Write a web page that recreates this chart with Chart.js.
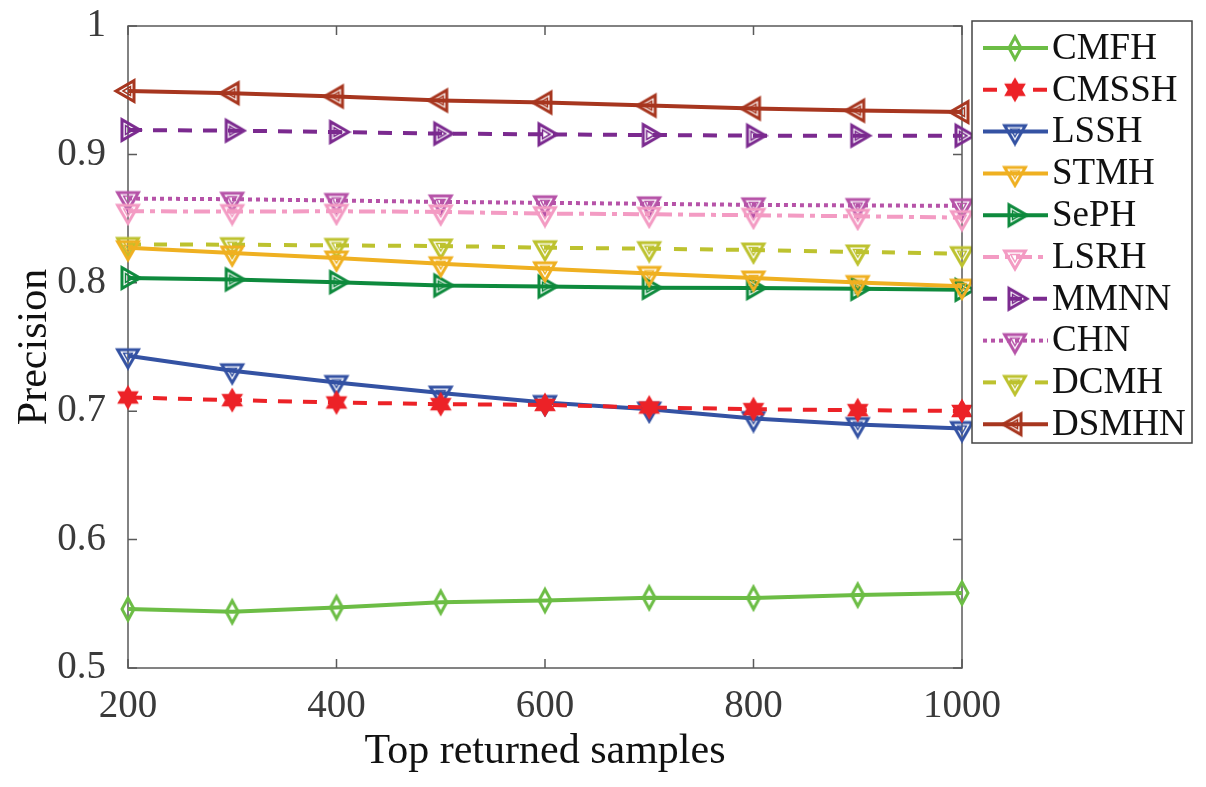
<!DOCTYPE html>
<html><head><meta charset="utf-8">
<script src="https://cdn.jsdelivr.net/npm/chart.js@4/dist/chart.umd.min.js"></script>
<style>html,body{margin:0;padding:0;background:#fff;}#wrap{width:1206px;height:787px;}</style>
</head><body><div id="wrap"><canvas id="c" width="1206" height="787"></canvas></div>
<script>
const xValues = [200,300,400,500,600,700,800,900,1000];
const yTicks = [0.5,0.6,0.7,0.8,0.9,1];
const xTicks = [200,400,600,800,1000];
const CMFH  = [0.5459,0.5438,0.5471,0.5513,0.5526,0.5547,0.5545,0.5568,0.5584];
const CMSSH = [0.7107,0.7086,0.7068,0.7055,0.7049,0.7029,0.7016,0.7008,0.7002];
const LSSH  = [0.7432,0.7315,0.7224,0.7141,0.7068,0.7016,0.6943,0.6896,0.6865];
const STMH  = [0.8273,0.8232,0.8193,0.8148,0.8109,0.8073,0.8037,0.8002,0.7974];
const SePH  = [0.8037,0.8026,0.8005,0.7979,0.7971,0.7961,0.7959,0.7953,0.7945];
const LSRH  = [0.8557,0.8555,0.8557,0.8552,0.8539,0.8534,0.8526,0.8518,0.8508];
const MMNN  = [0.9190,0.9185,0.9174,0.9162,0.9156,0.9151,0.9146,0.9146,0.9146];
const CHN   = [0.8656,0.8651,0.8641,0.8630,0.8623,0.8615,0.8607,0.8602,0.8600];
const DCMH  = [0.8299,0.8297,0.8291,0.8287,0.8273,0.8266,0.8255,0.8240,0.8227];
const DSMHN = [0.9494,0.9477,0.9451,0.9420,0.9404,0.9380,0.9357,0.9341,0.9330];
const seriesNames = ['CMFH','CMSSH','LSSH','STMH','SePH','LSRH','MMNN','CHN','DCMH','DSMHN'];

function markerCanvas(shape, color){
  const s = 30, c = document.createElement('canvas');
  c.width = s; c.height = s;
  const g = c.getContext('2d');
  const cx = s/2, cy = s/2;
  g.strokeStyle = color; g.fillStyle = color; g.lineWidth = 3; g.lineJoin='miter';
  g.beginPath();
  if (shape === 'diamond') {
    g.moveTo(cx, cy-11); g.lineTo(cx+6, cy); g.lineTo(cx, cy+11); g.lineTo(cx-6, cy); g.closePath(); g.stroke();
  } else if (shape === 'hexagram') {
    const R = 12.5, r = 7.2;
    for (let i=0;i<12;i++){ const a = -Math.PI/2 + i*Math.PI/6; const rr = i%2===0?R:r; const px = cx+rr*Math.cos(a), py = cy+rr*Math.sin(a); if(i===0) g.moveTo(px,py); else g.lineTo(px,py);} g.closePath(); g.fill();
  } else {
    const R = 12;
    let ang = {down: Math.PI/2, right: 0, left: Math.PI}[shape];
    for (let i=0;i<3;i++){ const a = ang + i*2*Math.PI/3; const px=cx+R*Math.cos(a), py=cy+R*Math.sin(a); if(i===0) g.moveTo(px,py); else g.lineTo(px,py);} g.closePath(); g.stroke();
    g.lineWidth = 1.5; g.beginPath();
    for (let i=0;i<3;i++){ const a = ang + i*2*Math.PI/3; const px=cx+5*Math.cos(a), py=cy+5*Math.sin(a); if(i===0) g.moveTo(px,py); else g.lineTo(px,py);} g.closePath(); g.stroke();
  }
  return c;
}

const styles = {
  CMFH:  {color:'#6cbd45', dash:[], marker:'diamond'},
  CMSSH: {color:'#ec2227', dash:[14,11], marker:'hexagram'},
  LSSH:  {color:'#3452a3', dash:[], marker:'down'},
  STMH:  {color:'#efb021', dash:[], marker:'down'},
  SePH:  {color:'#0e8a3d', dash:[], marker:'right'},
  LSRH:  {color:'#f39bc3', dash:[16,6,5,6], marker:'down'},
  MMNN:  {color:'#7b2a8f', dash:[14,11], marker:'right'},
  CHN:   {color:'#b653a8', dash:[4,4], marker:'down'},
  DCMH:  {color:'#bdc22f', dash:[13,13], marker:'down'},
  DSMHN: {color:'#a7361f', dash:[], marker:'left'}
};
const seriesData = {CMFH,CMSSH,LSSH,STMH,SePH,LSRH,MMNN,CHN,DCMH,DSMHN};

const datasets = seriesNames.map(n => {
  const st = styles[n];
  const img = markerCanvas(st.marker, st.color);
  return {
    label: n,
    data: xValues.map((x,i)=>({x, y: seriesData[n][i]})),
    borderColor: st.color, backgroundColor: st.color,
    borderWidth: 4, borderDash: st.dash,
    pointStyle: img, pointRadius: 13, pointHoverRadius: 13,
    tension: 0, clip: false, _img: img
  };
});

const FONT = '"Liberation Serif", "Times New Roman", serif';
const axisColor = '#5a5a5a';
const textColor = '#3a3a3a';

const framePlugin = {
  id:'frame',
  beforeDatasetsDraw(chart){
    const {ctx, chartArea:a, scales} = chart;
    ctx.save();
    ctx.strokeStyle = axisColor; ctx.lineWidth = 1.5;
    ctx.strokeRect(a.left, a.top, a.right-a.left, a.bottom-a.top);
    const tl = 9;
    ctx.beginPath();
    yTicks.forEach(v=>{ const p = scales.y.getPixelForValue(v); ctx.moveTo(a.left,p); ctx.lineTo(a.left+tl,p); ctx.moveTo(a.right,p); ctx.lineTo(a.right-tl,p); });
    xTicks.forEach(v=>{ const p = scales.x.getPixelForValue(v); ctx.moveTo(p,a.bottom); ctx.lineTo(p,a.bottom-tl); ctx.moveTo(p,a.top); ctx.lineTo(p,a.top+tl); });
    ctx.stroke();
    ctx.restore();
  },
  afterDraw(chart){
    const ctx = chart.ctx;
    const L = 972, T = 21, W = 220, H = 422;
    ctx.save();
    ctx.fillStyle = '#fff'; ctx.fillRect(L,T,W,H);
    ctx.strokeStyle = '#444'; ctx.lineWidth = 1.5; ctx.strokeRect(L,T,W,H);
    const rowH = 41.8, y0 = 48;
    chart.data.datasets.forEach((ds,i)=>{
      const y = y0 + i*rowH;
      ctx.strokeStyle = ds.borderColor; ctx.lineWidth = 4; ctx.setLineDash(ds.borderDash);
      ctx.beginPath(); ctx.moveTo(983,y); ctx.lineTo(1048,y); ctx.stroke();
      ctx.setLineDash([]);
      ctx.drawImage(ds._img, 1015-15, y-15);
      ctx.fillStyle = '#111'; ctx.font = '37px ' + FONT; ctx.textBaseline='middle'; ctx.textAlign='left';
      ctx.fillText(ds.label, 1052, y+1);
    });
    ctx.restore();
  }
};

new Chart(document.getElementById('c'), {
  type:'line',
  data:{datasets},
  options:{
    responsive:false, animation:false, devicePixelRatio:1,
    layout:{padding:{top:26, right:244, left:0, bottom:0}},
    plugins:{legend:{display:false}, tooltip:{enabled:false}},
    scales:{
      x:{type:'linear', min:200, max:1000,
         afterBuildTicks(s){ s.ticks = xTicks.map(v=>({value:v})); },
         afterFit(s){ s.height = 119; s.paddingLeft = 0; s.paddingRight = 0; },
         grid:{display:false}, border:{display:false},
         ticks:{color:textColor, font:{family:FONT, size:39}, padding:7, maxRotation:0, callback:v=>String(v)},
         title:{display:true, text:'Top returned samples', color:'#111', font:{family:FONT, size:42}, padding:{top:0,bottom:10}}},
      y:{type:'linear', min:0.5, max:1,
         afterBuildTicks(s){ s.ticks = yTicks.map(v=>({value:v})); },
         afterFit(s){ s.width = 128; s.paddingTop = 0; s.paddingBottom = 0; },
         grid:{display:false}, border:{display:false},
         ticks:{color:textColor, font:{family:FONT, size:39}, padding:14, callback:v=>(v===1?'1':v.toFixed(1))},
         title:{display:true, text:'Precision', color:'#111', font:{family:FONT, size:42}, padding:{top:10,bottom:0}}}
    }
  },
  plugins:[framePlugin]
});
</script></body></html>
